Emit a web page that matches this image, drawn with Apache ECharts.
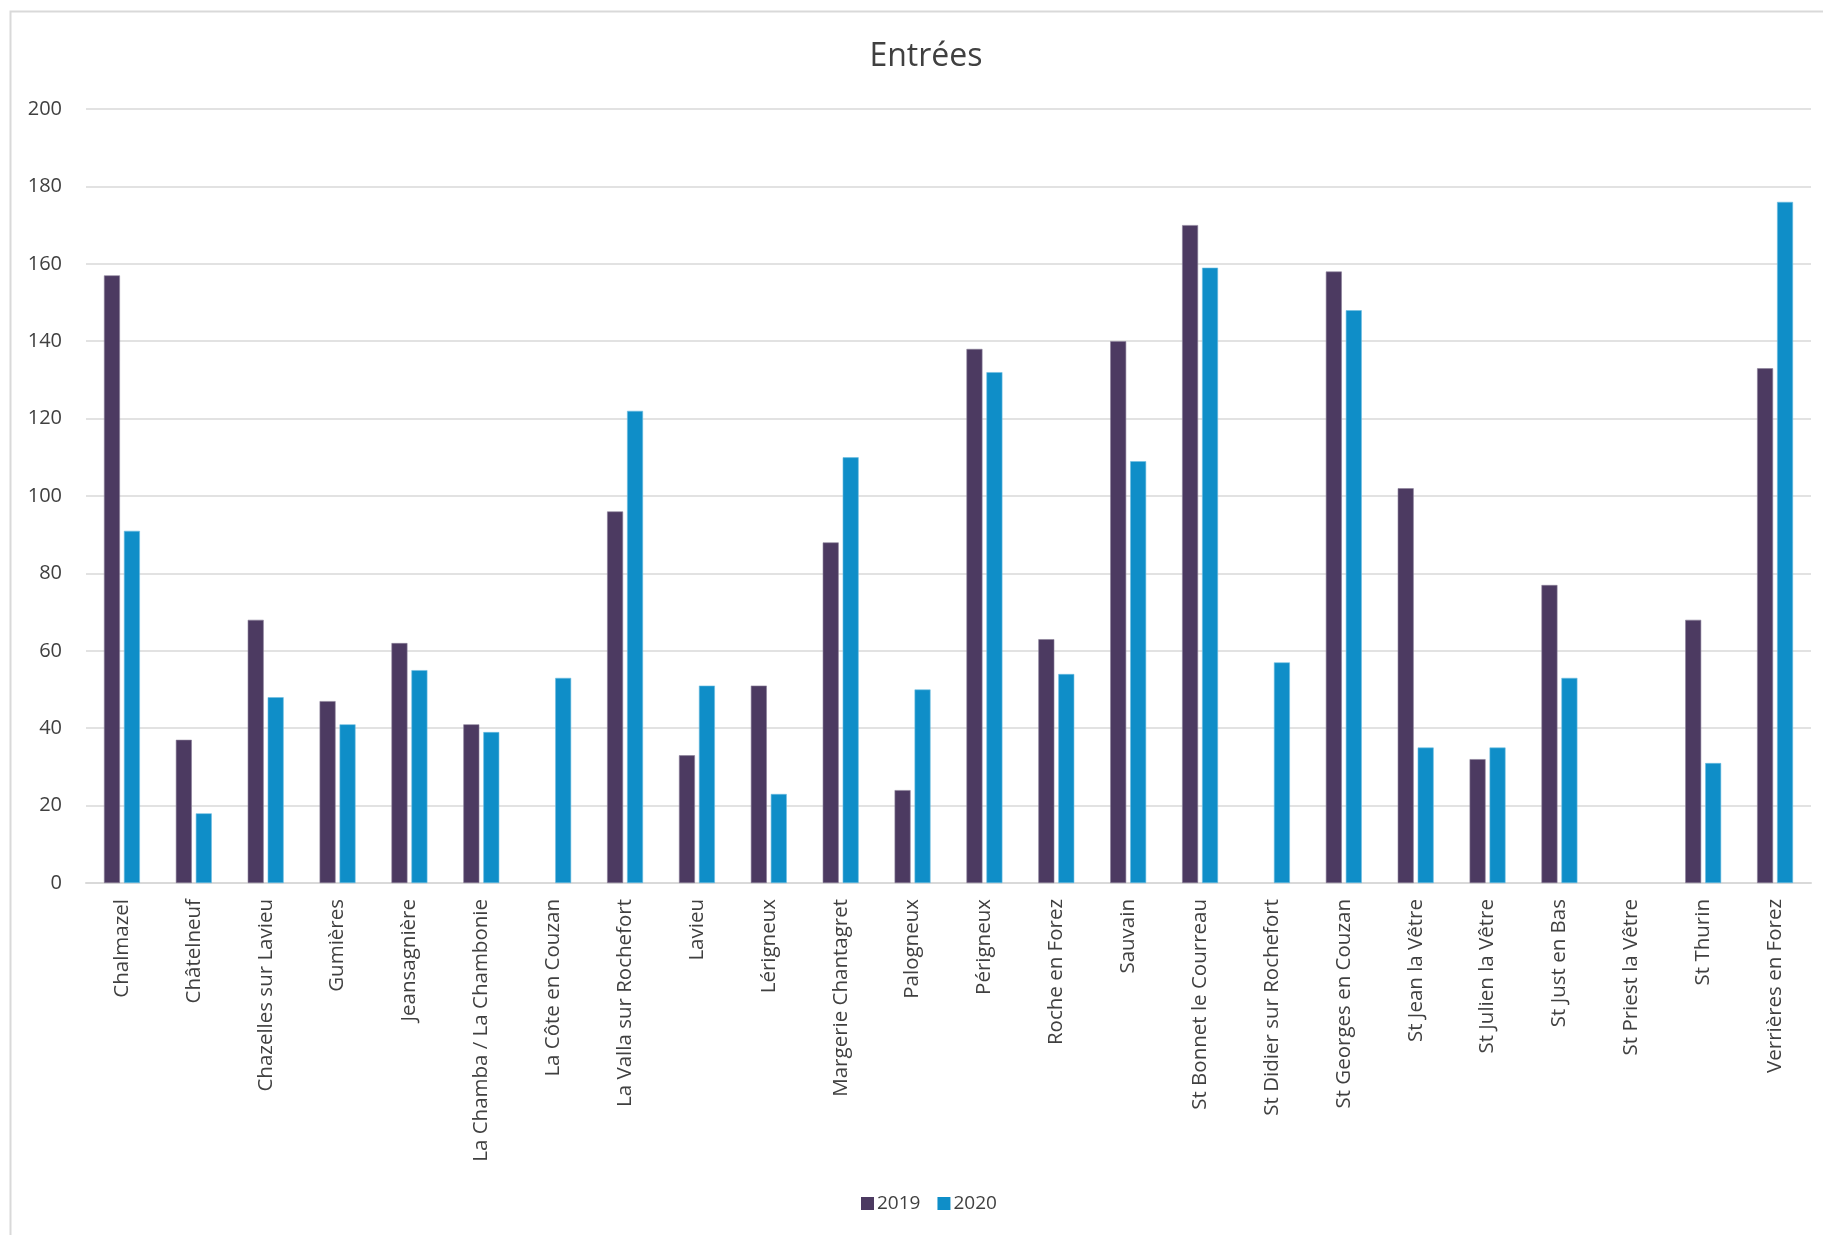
<!DOCTYPE html>
<html>
<head>
<meta charset="utf-8">
<script src="https://cdn.jsdelivr.net/npm/echarts@6/dist/echarts.min.js"></script>
<style>html,body{margin:0;padding:0;background:#fff}#c{width:1823px;height:1235px}</style>
</head>
<body>
<div id="c"></div>
<script>
const categories = ["Chalmazel","Châtelneuf","Chazelles sur Lavieu","Gumières","Jeansagnière","La Chamba / La Chambonie","La Côte en Couzan","La Valla sur Rochefort","Lavieu","Lérigneux","Margerie Chantagret","Palogneux","Périgneux","Roche en Forez","Sauvain","St Bonnet le Courreau","St Didier sur Rochefort","St Georges en Couzan","St Jean la Vêtre","St Julien la Vêtre","St Just en Bas","St Priest la Vêtre","St Thurin","Verrières en Forez"];
const values2019 = [157,37,68,47,62,41,null,96,33,51,88,24,138,63,140,170,null,158,102,32,77,null,68,133];
const values2020 = [91,18,48,41,55,39,53,122,51,23,110,50,132,54,109,159,57,148,35,35,53,null,31,176];
const seriesNames = ["2019","2020"];
const yTicks = {min:0, max:200, interval:20};

const font = "'Open Sans', sans-serif";
const txt = "#404040";
const chart = echarts.init(document.getElementById('c'), null, {renderer:'canvas'});
chart.setOption({
  animation:false,
  backgroundColor:'#fff',
  graphic:[{type:'rect', shape:{x:10.5,y:11.5,width:1900,height:1300}, style:{fill:'none', stroke:'#d9d9d9', lineWidth:2}, silent:true, z:-1}],
  title:{text:'Entrées', left:921, top:36, textAlign:'center',
    textStyle:{fontFamily:font, fontSize:32, fontWeight:'normal', color:txt}},
  legend:{bottom:17, left:856, itemWidth:13, itemHeight:13, itemGap:17, icon:'rect',
    itemStyle:{borderWidth:0},
    textStyle:{fontFamily:font, fontSize:19, color:txt, padding:[0,0,0,-2]},
    data:seriesNames},
  grid:{left:86, right:12, top:109, bottom:352, containLabel:false},
  xAxis:{type:'category', data:categories,
    axisLine:{lineStyle:{color:'#d9d9d9', width:2}}, axisTick:{show:false},
    axisLabel:{rotate:90, interval:0, fontFamily:font, fontSize:20.5, color:txt, margin:16}},
  yAxis:{type:'value', min:yTicks.min, max:yTicks.max, interval:yTicks.interval,
    axisLine:{show:false}, axisTick:{show:false},
    splitLine:{lineStyle:{color:'#d9d9d9', width:1.5}},
    axisLabel:{fontFamily:font, fontSize:20, color:txt, margin:24}},
  series:[
    {name:seriesNames[0], type:'bar', data:values2019, barGap:'25%', barCategoryGap:'50%',
      itemStyle:{color:'#4c3a61', borderColor:'#8a7f99', borderWidth:0.6}},
    {name:seriesNames[1], type:'bar', data:values2020, barGap:'25%', barCategoryGap:'50%',
      itemStyle:{color:'#0f8ec8', borderColor:'#6fbde0', borderWidth:0.6}}
  ]
});
</script>
</body>
</html>
